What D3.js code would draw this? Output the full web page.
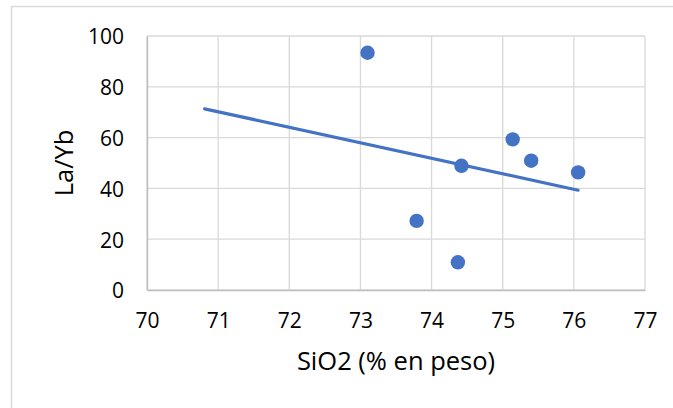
<!DOCTYPE html>
<html>
<head>
<meta charset="utf-8">
<script src="https://cdn.jsdelivr.net/npm/d3@7"></script>
<style>
html,body{margin:0;padding:0;background:#fff;}
svg{display:block;}
text{font-family:"Open Sans","Liberation Sans",sans-serif;fill:#000;}
</style>
</head>
<body>
<svg id="chart" width="673" height="408"></svg>
<script>
const sio2 = [73.10, 74.42, 75.14, 75.40, 76.06, 73.79, 74.37];
const laYb = [93.4, 48.9, 59.3, 50.9, 46.3, 27.2, 10.9];
const trendRange = [70.81, 76.06];
const xTicks = [70, 71, 72, 73, 74, 75, 76, 77];
const yTicks = [0, 20, 40, 60, 80, 100];
const xTitle = "SiO2 (% en peso)";
const yTitle = "La/Yb";

const svg = d3.select("#chart");
const W = 673, H = 408;
const m = {left:147, right:673-645, top:36, bottom:408-290};

// outer frame (left & top visible)
svg.append("path")
  .attr("d", `M11.5,${H+2} V6.5 H${W+2}`)
  .attr("fill","none").attr("stroke","#d9d9d9").attr("stroke-width",1.5);

const x = d3.scaleLinear().domain([70,77]).range([m.left, W-m.right]);
const y = d3.scaleLinear().domain([0,100]).range([H-m.bottom, m.top]);

// gridlines
const g = svg.append("g");
g.selectAll(".vg").data(xTicks).join("line")
  .attr("x1",d=>x(d)).attr("x2",d=>x(d))
  .attr("y1",y(0)).attr("y2",y(100))
  .attr("stroke","#d9d9d9").attr("stroke-width",1.3);
g.selectAll(".hg").data(yTicks).join("line")
  .attr("x1",x(70)).attr("x2",x(77))
  .attr("y1",d=>y(d)).attr("y2",d=>y(d))
  .attr("stroke","#d9d9d9").attr("stroke-width",1.3);

// axes
const xAxis = svg.append("g").attr("transform",`translate(0,${y(0)})`)
  .call(d3.axisBottom(x).tickValues(xTicks).tickSize(0).tickPadding(23).tickFormat(d3.format("d")));
const yAxis = svg.append("g").attr("transform",`translate(${x(70)},0)`)
  .call(d3.axisLeft(y).tickValues(yTicks).tickSize(0).tickPadding(23).tickFormat(d3.format("d")));
[xAxis,yAxis].forEach(a=>{
  a.select(".domain").attr("stroke","#bfbfbf").attr("stroke-width",1.5);
  a.selectAll("text").style("font-size","21px").attr("fill","#000");
});
yAxis.selectAll("text").attr("dy","0.38em");

// trendline (least squares)
const n = sio2.length;
const mx = d3.mean(sio2), my = d3.mean(laYb);
let sxy=0, sxx=0;
for(let i=0;i<n;i++){ sxy+=(sio2[i]-mx)*(laYb[i]-my); sxx+=(sio2[i]-mx)**2; }
const slope = sxy/sxx, icpt = my - slope*mx;
svg.append("line")
  .attr("x1",x(trendRange[0])).attr("y1",y(icpt+slope*trendRange[0]))
  .attr("x2",x(trendRange[1])).attr("y2",y(icpt+slope*trendRange[1]))
  .attr("stroke","#4472C4").attr("stroke-width",3.2).attr("stroke-linecap","round");

// points
svg.selectAll(".pt").data(sio2.map((v,i)=>[v,laYb[i]])).join("circle")
  .attr("cx",d=>x(d[0])).attr("cy",d=>y(d[1])).attr("r",7.2)
  .attr("fill","#4472C4");

// titles
svg.append("text").attr("x",(x(70)+x(77))/2).attr("y",370)
  .attr("text-anchor","middle").style("font-size","25.5px").text(xTitle);
svg.append("text").attr("transform",`translate(73,${(y(0)+y(100))/2}) rotate(-90)`)
  .attr("text-anchor","middle").style("font-size","25.5px").text(yTitle);
</script>
</body>
</html>
